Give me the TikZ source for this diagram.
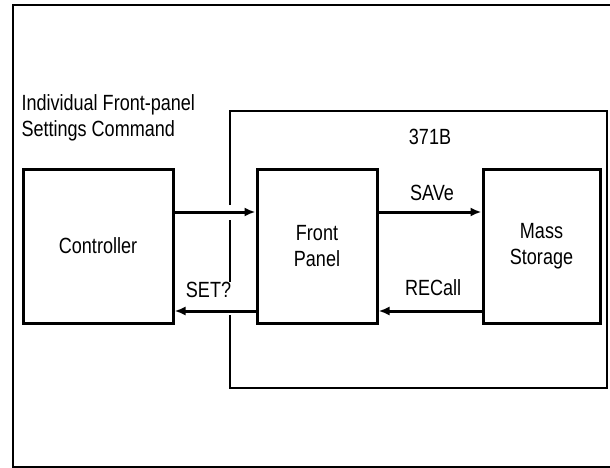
\documentclass[tikz,border=0pt]{standalone}
\usepackage{fontspec}
\setmainfont{Liberation Sans}[FakeStretch=0.82]
\usetikzlibrary{arrows.meta, positioning, math}

\tikzset{
blk/.style={draw, line width=3pt, minimum height=154pt, inner sep=0pt, align=center},
flow/.style={-{Latex[length=11pt,width=9pt]}, line width=3pt},
}

\begin{document}
\begin{tikzpicture}[x=1pt,y=-1pt,font=\fontsize{22}{26}\selectfont]

\tikzmath{
\W = 610;
\H = 468;
%371B box
\bl = 230;
\bt = 111;
\br = 607;
\bb = 388;
%gaps in left side
\ga = 205;
\gb = 220;
\gc = 282;
\gd = 315;
}

\useasboundingbox (0,0) rectangle (\W,\H);

%outer frame:
\draw[line width=2pt] (13,5) rectangle (\W+6,467);

%371B box, left side broken at the arrows:
\draw[line width=2.6pt] (\bl,\ga) -- (\bl,\bt) -- (\br,\bt) -- (\br,\bb) -- (\bl,\bb) -- (\bl,\gd);
\draw[line width=2.6pt] (\bl,\gb) -- (\bl,\gc);
\node (lbl371) at (430,137) {371B};

\node[anchor=north west, align=left] (cmdtxt) at (18,91) {Individual Front-panel\\Settings Command};

%blocks
\node[blk, minimum width=150pt] (ctrl) at (98,246) {Controller};
\node[blk, minimum width=120pt] (fp) at (317,246) {Front\\Panel};
\node[blk, minimum width=117pt] (ms) at (541.5,246) {Mass\\Storage};

%flows
\draw[flow] ([yshift=34pt]ctrl.east) -- ([yshift=34pt]fp.west);
\draw[flow] ([yshift=-65pt]fp.west) -- ([yshift=-65pt]ctrl.east) node[above=8pt, pos=0.58] (setq) {SET?};
\draw[flow] ([yshift=34pt]fp.east) -- ([yshift=34pt]ms.west) node[above=6pt, pos=0.52] (save) {SAVe};
\draw[flow] ([yshift=-65pt]ms.west) -- ([yshift=-65pt]fp.east) node[above=10pt, pos=0.47] (recall) {RECall};

\end{tikzpicture}
\end{document}
